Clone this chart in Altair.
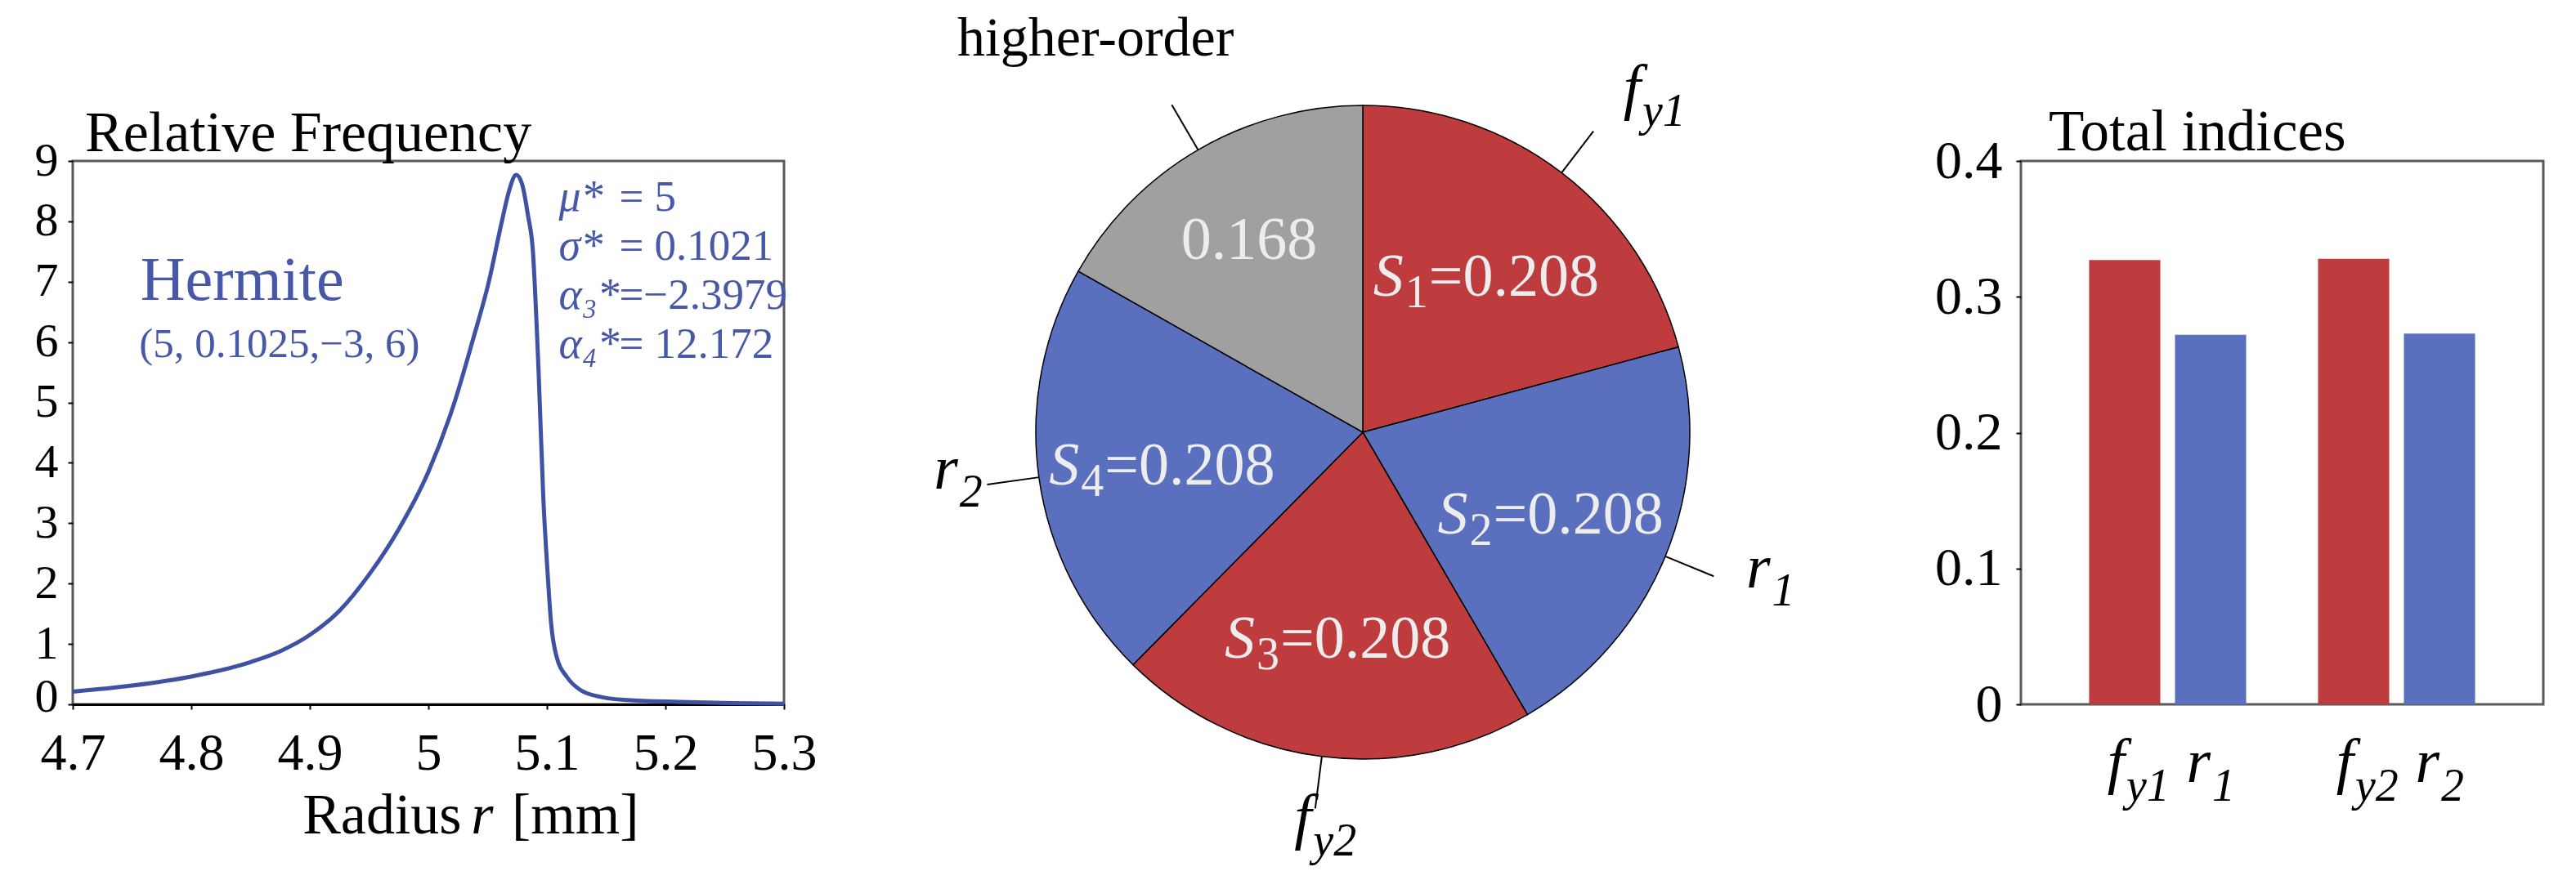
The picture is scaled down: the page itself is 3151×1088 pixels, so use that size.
import altair as alt
import pandas as pd

SERIF = "Liberation Serif"
RED = "#BE3B3E"
BLUE = "#5A6FBD"
GRAY = "#A0A0A0"
LINE_BLUE = "#3F51A3"
TEXT_BLUE = "#4858A8"
FRAME = "#5A5A5A"
LIGHT = "#EDEDED"

# ---------------- data ----------------
curve_r = [4.700, 4.750, 4.800, 4.850, 4.875, 4.900, 4.925, 4.950, 4.975, 5.000,
           5.022, 5.037, 5.051, 5.062, 5.068, 5.074, 5.079, 5.084, 5.088, 5.093,
           5.097, 5.1005, 5.1035, 5.108, 5.117, 5.128, 5.146, 5.168, 5.212, 5.256,
           5.300]
curve_f = [0.21, 0.31, 0.46, 0.70, 0.88, 1.15, 1.55, 2.15, 2.90, 3.85,
           5.00, 6.00, 7.00, 8.00, 8.50, 8.77, 8.62, 8.10, 7.55, 5.50,
           3.40, 2.20, 1.35, 0.80, 0.45, 0.24, 0.12, 0.07, 0.04, 0.02,
           0.01]
x_ticks = [4.7, 4.8, 4.9, 5.0, 5.1, 5.2, 5.3]
y_ticks = [0, 1, 2, 3, 4, 5, 6, 7, 8, 9]
left_title = "Relative Frequency"
hermite_label = "Hermite"
hermite_params = "(5, 0.1025,\u22123, 6)"
stat_names = ["\u03bc*", "\u03c3*", "\u03b1\u2083*", "\u03b1\u2084*"]
stat_values = ["= 5", "= 0.1021", "=\u22122.3979", "= 12.172"]
xlabel_parts = ["Radius", "r", "[mm]"]

pie_values = [0.208, 0.208, 0.208, 0.208, 0.168]
pie_kind = ["f", "r", "f", "r", "h"]
pie_sub = ["1", "2", "3", "4", ""]
pie_text = ["=0.208", "=0.208", "=0.208", "=0.208", "0.168"]
pie_outer_main = ["f", "r", "f", "r", "higher-order"]
pie_outer_sub = ["y1", "1", "y2", "2", ""]

bar_group = ["A", "A", "B", "B"]
bar_kind = ["f", "r", "f", "r"]
bar_main = ["f", "r", "f", "r"]
bar_sub = ["y1", "1", "y2", "2"]
bar_values = [0.327, 0.272, 0.328, 0.273]
bar_ticks = [0, 0.1, 0.2, 0.3, 0.4]
right_title = "Total indices"

color_scale = alt.Scale(domain=["f", "r", "h"], range=[RED, BLUE, GRAY])

# ---------------- left panel ----------------
LW, LH = 870, 665
xl = alt.Scale(domain=[4.7, 5.3], nice=False, zero=False)
yl = alt.Scale(domain=[0, 9], nice=False)

curve_df = pd.DataFrame({"r": curve_r, "f": curve_f})
x_axis_l = alt.Axis(values=x_ticks, format="~g", title=None, grid=False,
                    domainColor="black", domainWidth=3, tickColor="black",
                    tickWidth=2, tickSize=6, labelPadding=22, labelFontSize=64,
                    labelFlush=False, labelOverlap=False)
y_axis_l = alt.Axis(values=y_ticks, format="d", title=None, grid=False, domain=False,
                    tickColor="black", tickWidth=2, tickSize=6, labelPadding=12,
                    labelFontSize=58, labelFlush=False, labelOverlap=False,
                    labelOffset={"condition": {"test": "datum.value == 0", "value": -9},
                                 "value": 0})

line = alt.Chart(curve_df).mark_line(color=LINE_BLUE, strokeWidth=5,
                                     interpolate="monotone").encode(
    x=alt.X("r:Q", scale=xl, axis=x_axis_l),
    y=alt.Y("f:Q", scale=yl, axis=y_axis_l),
)


def one(t):
    return pd.DataFrame({"t": [t]})


ltitle = alt.Chart(one(left_title)).mark_text(
    align="left", baseline="alphabetic", font=SERIF, fontSize=70, color="black",
    dx=15, dy=-12).encode(x=alt.datum(4.7), y=alt.datum(9), text="t:N")

herm = alt.Chart(one(hermite_label)).mark_text(
    align="left", baseline="alphabetic", font=SERIF, fontSize=76, color=TEXT_BLUE
).encode(x=alt.datum(4.757), y=alt.datum(6.70), text="t:N")

herm2 = alt.Chart(one(hermite_params)).mark_text(
    align="left", baseline="alphabetic", font=SERIF, fontSize=51, color=TEXT_BLUE
).encode(x=alt.datum(4.756), y=alt.datum(5.75), text="t:N")

stats_df = pd.DataFrame({"name": stat_names, "val": stat_values,
                         "row": list(range(len(stat_names)))})
stats_base = alt.Chart(stats_df).transform_calculate(yy="8.174 - datum.row*0.812")
stat_n = stats_base.mark_text(align="left", baseline="alphabetic", font=SERIF,
                              fontSize=54, color=TEXT_BLUE, fontStyle="italic").encode(
    x=alt.datum(5.110), y=alt.Y("yy:Q"), text="name:N")
stat_v = stats_base.mark_text(align="left", baseline="alphabetic", font=SERIF,
                              fontSize=53, color=TEXT_BLUE).encode(
    x=alt.datum(5.161), y=alt.Y("yy:Q"), text="val:N")

XT_Y = -2.14
xt1 = alt.Chart(one(xlabel_parts[0])).mark_text(
    align="right", baseline="alphabetic", font=SERIF, fontSize=70, color="black"
).encode(x=alt.datum(5.028), y=alt.datum(XT_Y), text="t:N")
xt2 = alt.Chart(one(xlabel_parts[1])).mark_text(
    align="center", baseline="alphabetic", font=SERIF, fontSize=70, color="black",
    fontStyle="italic").encode(x=alt.datum(5.0455), y=alt.datum(XT_Y), text="t:N")
xt3 = alt.Chart(one(xlabel_parts[2])).mark_text(
    align="left", baseline="alphabetic", font=SERIF, fontSize=70, color="black"
).encode(x=alt.datum(5.0703), y=alt.datum(XT_Y), text="t:N")

left = alt.layer(line, ltitle, herm, herm2, stat_n, stat_v, xt1, xt2, xt3).properties(
    width=LW, height=LH, view=alt.ViewBackground(stroke=FRAME, strokeWidth=3))

# ---------------- pie panel ----------------
PW, PH, R = 1313, 665, 400
CX, CY = 608, 332
xs = alt.Scale(domain=[-CX / R, (PW - CX) / R], nice=False, zero=False)
ys = alt.Scale(domain=[-(PH - CY) / R, CY / R], nice=False, zero=False)

pie_df = pd.DataFrame({"order": list(range(len(pie_values))), "value": pie_values,
                       "kind": pie_kind, "sub": pie_sub, "vtext": pie_text,
                       "omain": pie_outer_main, "osub": pie_outer_sub})

arcs = alt.Chart(pie_df).mark_arc(radius=R, stroke="black", strokeWidth=1.5).encode(
    theta=alt.Theta("value:Q", stack=True),
    order=alt.Order("order:Q"),
    color=alt.Color("kind:N", scale=color_scale, legend=None),
    x=alt.X(datum=0, scale=xs, axis=None),
    y=alt.Y(datum=0, scale=ys, axis=None),
)

pie_base = alt.Chart(pie_df).transform_window(
    cum="sum(value)", frame=[None, 0], sort=[alt.SortField("order")]
).transform_joinaggregate(total="sum(value)").transform_calculate(
    mid="2*PI*(datum.cum - datum.value/2)/datum.total"
).transform_calculate(s="sin(datum.mid)", c="cos(datum.mid)")

leaders = pie_base.transform_calculate(
    lx1="1.0*datum.s", ly1="1.0*datum.c", lx2="1.16*datum.s", ly2="1.16*datum.c"
).mark_rule(color="black", strokeWidth=2).encode(
    x=alt.X("lx1:Q", scale=xs, axis=None), y=alt.Y("ly1:Q", scale=ys, axis=None),
    x2="lx2:Q", y2="ly2:Q")

inner = pie_base.transform_filter("datum.sub != ''").transform_calculate(
    ix="0.62*datum.s", iy="0.62*datum.c")
in_s = inner.mark_text(text="S", align="right", baseline="alphabetic", font=SERIF,
                       fontSize=74, fontStyle="italic", color=LIGHT, dx=-101, dy=30).encode(
    x=alt.X("ix:Q", scale=xs, axis=None), y=alt.Y("iy:Q", scale=ys, axis=None))
in_sub = inner.mark_text(align="left", baseline="alphabetic", font=SERIF,
                         fontSize=56, color=LIGHT, dx=-99, dy=44).encode(
    x=alt.X("ix:Q", scale=xs, axis=None), y=alt.Y("iy:Q", scale=ys, axis=None),
    text="sub:N")
in_val = inner.mark_text(align="left", baseline="alphabetic", font=SERIF,
                         fontSize=74, color=LIGHT, dx=-70, dy=30).encode(
    x=alt.X("ix:Q", scale=xs, axis=None), y=alt.Y("iy:Q", scale=ys, axis=None),
    text="vtext:N")
in_gray = pie_base.transform_filter("datum.sub == ''").transform_calculate(
    ix="0.69*datum.s", iy="0.69*datum.c").mark_text(
    align="center", baseline="alphabetic", font=SERIF, fontSize=74, color=LIGHT, dy=26
).encode(x=alt.X("ix:Q", scale=xs, axis=None), y=alt.Y("iy:Q", scale=ys, axis=None),
         text="vtext:N")

outer = pie_base.transform_filter("datum.osub != ''").transform_calculate(
    ox="1.25*datum.s + (datum.s > 0 ? 0.09 : 0)", oy="1.25*datum.c")
out_main = outer.mark_text(align="right", baseline="alphabetic", font=SERIF,
                           fontSize=76, fontStyle="italic", color="black").encode(
    x=alt.X("ox:Q", scale=xs, axis=None), y=alt.Y("oy:Q", scale=ys, axis=None),
    text="omain:N")
out_sub = outer.mark_text(align="left", baseline="alphabetic", font=SERIF,
                          fontSize=56, fontStyle="italic", color="black", dx=2, dy=22).encode(
    x=alt.X("ox:Q", scale=xs, axis=None), y=alt.Y("oy:Q", scale=ys, axis=None),
    text="osub:N")
out_ho = pie_base.transform_filter("datum.osub == ''").transform_calculate(
    ox="1.3*datum.s", oy="1.3*datum.c").mark_text(
    align="center", baseline="alphabetic", font=SERIF, fontSize=68, color="black",
    dx=-65, dy=-12).encode(
    x=alt.X("ox:Q", scale=xs, axis=None), y=alt.Y("oy:Q", scale=ys, axis=None),
    text="omain:N")

pie = alt.layer(arcs, leaders, in_s, in_sub, in_val, in_gray, out_main, out_sub,
                out_ho).properties(width=PW, height=PH)

# ---------------- bar panel ----------------
BW, BH = 639, 665
bar_df = pd.DataFrame({"group": bar_group, "kind": bar_kind, "main": bar_main,
                       "sub": bar_sub, "value": bar_values})
bx_scale = alt.Scale(paddingInner=0.314, paddingOuter=0.298)
bxo_scale = alt.Scale(paddingInner=0.171, paddingOuter=0)
by_scale = alt.Scale(domain=[0, 0.4], nice=False)

bars = alt.Chart(bar_df).mark_bar().encode(
    x=alt.X("group:N", scale=bx_scale,
            axis=alt.Axis(labels=False, ticks=False, title=None, domainColor="black",
                          domainWidth=3, grid=False)),
    xOffset=alt.XOffset("kind:N", scale=bxo_scale),
    y=alt.Y("value:Q", scale=by_scale,
            axis=alt.Axis(values=bar_ticks, format="~g", title=None, grid=False,
                          domain=False, tickColor="black", tickWidth=2, tickSize=6,
                          labelPadding=17, labelFontSize=66, labelFlush=False,
                          labelOverlap=False)),
    color=alt.Color("kind:N", scale=color_scale, legend=None),
)
blab_main = alt.Chart(bar_df).mark_text(
    align="right", baseline="alphabetic", font=SERIF, fontSize=76, fontStyle="italic",
    color="black", dy=95).encode(
    x=alt.X("group:N", scale=bx_scale, axis=None),
    xOffset=alt.XOffset("kind:N", scale=bxo_scale),
    y=alt.datum(0), text="main:N")
blab_sub = alt.Chart(bar_df).mark_text(
    align="left", baseline="alphabetic", font=SERIF, fontSize=56, fontStyle="italic",
    color="black", dx=2, dy=118).encode(
    x=alt.X("group:N", scale=bx_scale, axis=None),
    xOffset=alt.XOffset("kind:N", scale=bxo_scale),
    y=alt.datum(0), text="sub:N")
rtitle = alt.Chart(one(right_title)).mark_text(
    align="left", baseline="alphabetic", font=SERIF, fontSize=71, color="black",
    dy=-13).encode(x=alt.value(34), y=alt.datum(0.4), text="t:N")

right = alt.layer(bars, blab_main, blab_sub, rtitle).properties(
    width=BW, height=BH, view=alt.ViewBackground(stroke=FRAME, strokeWidth=3))

chart = alt.hconcat(left, pie, right, spacing=100, bounds="flush").properties(
    padding={"left": 32, "top": 5, "right": 5, "bottom": 5}
).configure_view(strokeWidth=0).configure_axis(
    labelFont=SERIF, labelColor="black"
).configure_text(font=SERIF)

chart.save("out.html", embed_options={"renderer": "svg", "actions": False})
